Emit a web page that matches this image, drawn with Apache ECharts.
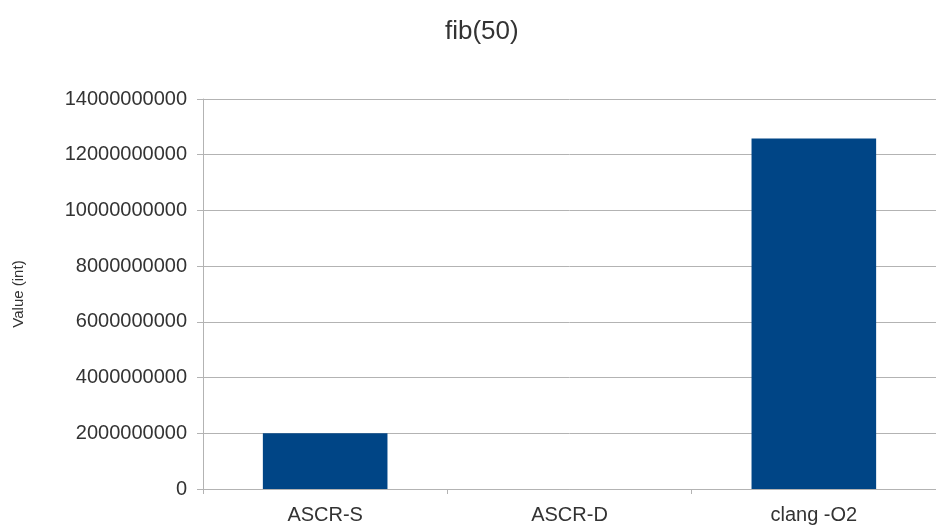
<!DOCTYPE html>
<html>
<head>
<meta charset="utf-8">
<script src="https://cdn.jsdelivr.net/npm/echarts@6/dist/echarts.min.js"></script>
<style>
  html, body { margin: 0; padding: 0; background: #fff; }
  #chart { width: 936px; height: 531px; }
</style>
</head>
<body>
<div id="chart"></div>
<script>
  // data
  var categories = ['ASCR-S', 'ASCR-D', 'clang -O2']
  var values = [2000000000, 0, 12586269025]
  var yTicks = { min: 0, max: 14000000000, step: 2000000000 }

  var chart = echarts.init(document.getElementById('chart'))
  var option = {
    animation: false,
    textStyle: { fontFamily: 'Liberation Sans' },
    title: {
      text: 'fib(50)',
      left: 440,
      top: 14,
      textStyle: { fontSize: 26, fontWeight: 'normal', color: '#333' }
    },
    grid: { left: 203, right: -2, top: 99, bottom: 42 },
    xAxis: {
      type: 'category',
      data: categories,
      axisLine: { lineStyle: { color: '#b3b3b3' } },
      axisTick: { show: true, length: 5, inside: false, lineStyle: { color: '#b3b3b3' } },
      axisLabel: { fontSize: 20, color: '#333', margin: 16 }
    },
    yAxis: {
      type: 'value',
      min: yTicks.min,
      max: yTicks.max,
      interval: yTicks.step,
      name: 'Value (int)',
      nameLocation: 'middle',
      nameGap: 177,
      nameTextStyle: { fontSize: 15, color: '#333' },
      axisLine: { show: true, lineStyle: { color: '#b3b3b3' } },
      axisTick: { show: true, length: 6, lineStyle: { color: '#b3b3b3' } },
      axisLabel: {
        fontSize: 20,
        color: '#333',
        margin: 16,
        formatter: function (v) { return String(v) }
      },
      splitLine: { lineStyle: { color: '#b3b3b3' } }
    },
    series: [
      {
        type: 'bar',
        data: values,
        barWidth: '51%',
        itemStyle: { color: '#004586' }
      }
    ]
  }
  chart.setOption(option)
</script>
</body>
</html>
